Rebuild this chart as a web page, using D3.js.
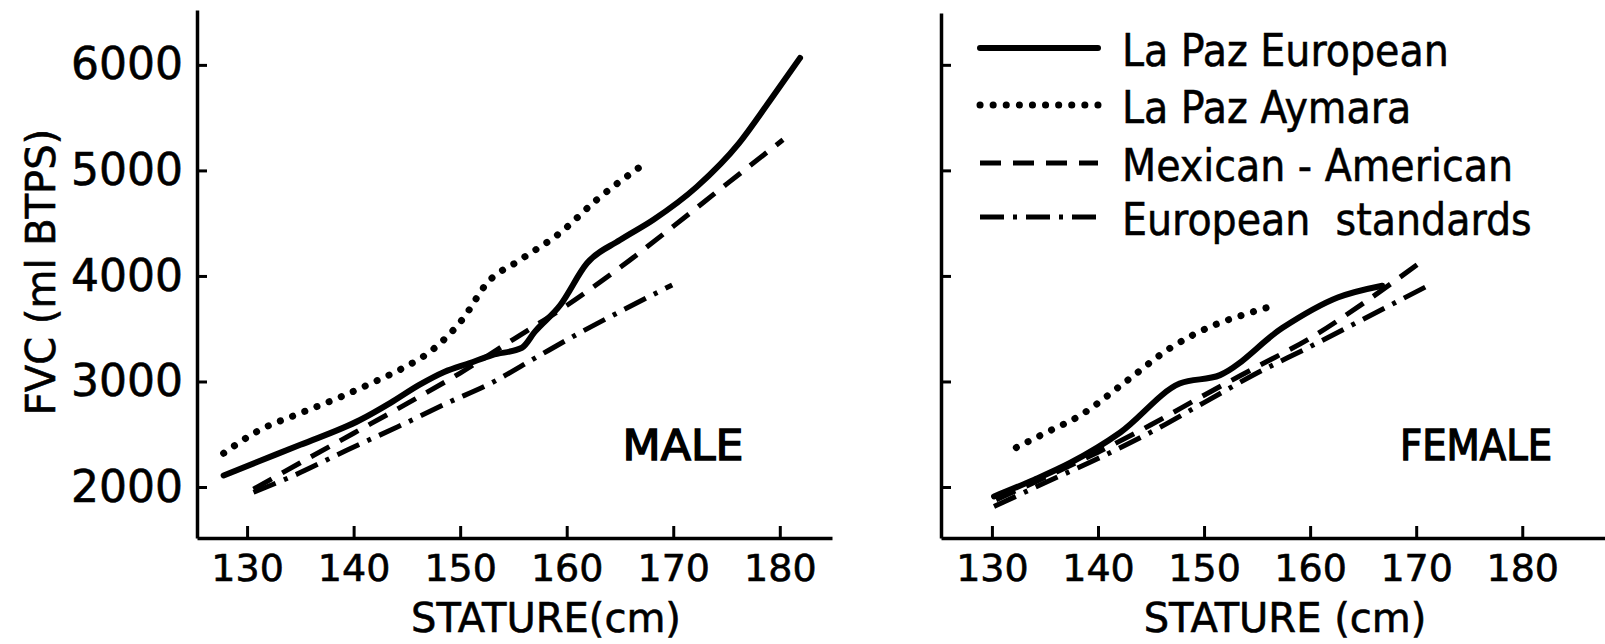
<!DOCTYPE html>
<html>
<head>
<meta charset="utf-8">
<script src="https://cdn.jsdelivr.net/npm/d3@7"></script>
<style>
	body { margin: 0; background: #fff; }
	svg { display: block; }
</style>
</head>
<body>
<svg id="chart"></svg>
<script>
// FVC vs stature, male and female panels

const xTicks = [130, 140, 150, 160, 170, 180];
const yTicks = [2000, 3000, 4000, 5000, 6000];
const seriesNames = ["La Paz European", "La Paz Aymara", "Mexican - American", "European  standards"];

// [stature cm, FVC ml]
const maleLaPazEuropean = [[127.8,2110],[131,2240],[135,2400],[140.6,2635],[143.5,2800],[146.2,2970],[148.5,3090],[150.9,3175],[153,3250],[155.8,3320],[157,3470],[159.4,3725],[161.9,4120],[165,4340],[168.1,4530],[172.2,4844],[176.2,5261],[179,5650],[181.9,6066]];
const maleLaPazAymara = [[127.8,2320],[131,2530],[135,2700],[138.7,2850],[141.8,2990],[144.5,3120],[147.4,3300],[150.3,3600],[152.5,3930],[155.6,4150],[159.4,4410],[162.8,4720],[167.1,5050]];
const maleMexicanAmerican = [[130.6,1980],[135,2230],[140,2510],[145,2790],[150,3080],[155,3400],[160,3720],[165,4080],[170,4470],[175,4870],[180.3,5290]];
const maleEuropeanStandards = [[130.6,1950],[134.5,2114],[139.4,2351],[144.1,2569],[148.8,2796],[153,2990],[157.2,3232],[161.2,3460],[165.3,3678],[169.9,3915]];

const femaleLaPazEuropean = [[130.2,1911],[134,2070],[137.4,2230],[142.1,2517],[147.7,2980],[151.5,3060],[157.4,3508],[162.6,3795],[166.8,3907]];
const femaleLaPazAymara = [[132.3,2374],[135,2510],[138.3,2677],[142.6,2997],[146.8,3316],[151.1,3540],[154,3640],[157,3732]];
const femaleMexicanAmerican = [[130.4,1880],[135,2090],[140,2330],[145,2590],[150,2870],[155,3140],[160,3410],[165,3740],[170.2,4115]];
const femaleEuropeanStandards = [[130.2,1815],[135,2040],[140,2270],[145,2520],[150,2800],[155,3080],[160,3330],[165,3590],[171.1,3907]];

let width = 1605;
let height = 644;
let font = "'DejaVu Sans', sans-serif";
let condensed = "'DejaVu Sans Condensed', 'DejaVu Sans', sans-serif";

let styles = [
	{width: 6, dash: null, cap: "round"},
	{width: 7, dash: "0.1 13", cap: "round"},
	{width: 5, dash: "21 12", cap: "butt"},
	{width: 5, dash: "24 9 4 9", cap: "butt"}
];

let svg = d3.select("#chart")
	.attr("width", width)
	.attr("height", height);

svg.append("rect").attr("width", width).attr("height", height).attr("fill", "#fff");

function drawPanel(opts){
	let x = d3.scaleLinear().domain(opts.xDomain).range(opts.xRange);
	let y = d3.scaleLinear().domain(opts.yDomain).range(opts.yRange);

	let g = svg.append("g");

	let xAxis = g.append("g")
		.attr("transform", "translate(0," + opts.yRange[0] + ")")
		.call(d3.axisBottom(x).tickValues(xTicks).tickSizeInner(-12).tickSizeOuter(0).tickPadding(16));

	let yAxis = g.append("g")
		.attr("transform", "translate(" + opts.xRange[0] + ",0)")
		.call(d3.axisLeft(y).tickValues(yTicks).tickSizeInner(-10).tickSizeOuter(0).tickPadding(14)
			.tickFormat(opts.yLabels ? d3.format("d") : ""));

	[xAxis, yAxis].forEach(a => {
		a.attr("font-family", font).attr("font-size", null);
		a.select(".domain").attr("stroke", "#000").attr("stroke-width", 3.5);
		a.selectAll(".tick line").attr("stroke", "#000").attr("stroke-width", 3);
		a.selectAll(".tick text").attr("fill", "#000").attr("stroke", "#000").attr("stroke-width", 0.6);
	});
	xAxis.selectAll(".tick text").attr("font-size", 38);
	yAxis.selectAll(".tick text").attr("font-size", 44);

	let line = d3.line()
		.x(d => x(d[0]))
		.y(d => y(d[1]))
		.curve(d3.curveMonotoneX);

	opts.series.forEach((s, i) => {
		g.append("path")
			.attr("d", line(s))
			.attr("fill", "none")
			.attr("stroke", "#000")
			.attr("stroke-width", styles[i].width)
			.attr("stroke-dasharray", styles[i].dash)
			.attr("stroke-linecap", styles[i].cap)
			.attr("stroke-linejoin", "round");
	});

	g.append("text")
		.attr("x", opts.tagX)
		.attr("y", 460)
		.attr("text-anchor", "middle")
		.attr("font-family", font)
		.attr("font-size", 42)
		.attr("stroke", "#000")
		.attr("stroke-width", 1.4)
		.attr("textLength", opts.tagLength)
		.attr("lengthAdjust", "spacingAndGlyphs")
		.text(opts.tag);

	g.append("text")
		.attr("x", opts.titleX)
		.attr("y", 632)
		.attr("text-anchor", "middle")
		.attr("font-family", font)
		.attr("font-size", 40)
		.attr("stroke", "#000")
		.attr("stroke-width", 0.6)
		.text(opts.title);
}

drawPanel({
	xDomain: [125.3, 184.9], xRange: [197, 832],
	yDomain: [1517, 6520], yRange: [538, 10],
	yLabels: true,
	series: [maleLaPazEuropean, maleLaPazAymara, maleMexicanAmerican, maleEuropeanStandards],
	tag: "MALE", tagX: 683, tagLength: 121,
	title: "STATURE(cm)", titleX: 546
});

drawPanel({
	xDomain: [125.2, 187.8], xRange: [941, 1605],
	yDomain: [1517, 6491], yRange: [538, 13],
	yLabels: false,
	series: [femaleLaPazEuropean, femaleLaPazAymara, femaleMexicanAmerican, femaleEuropeanStandards],
	tag: "FEMALE", tagX: 1476, tagLength: 152,
	title: "STATURE (cm)", titleX: 1285
});

// y axis title
svg.append("text")
	.attr("transform", "translate(41,272) rotate(-90)")
	.attr("text-anchor", "middle")
	.attr("dominant-baseline", "central")
	.attr("font-family", font)
	.attr("font-size", 40)
	.attr("stroke", "#000")
	.attr("stroke-width", 0.6)
	.text("FVC (ml BTPS)");

// legend in the female panel
let legendRows = [48, 105, 163, 217];
let legend = svg.append("g");
seriesNames.forEach((name, i) => {
	legend.append("line")
		.attr("x1", 980).attr("x2", 1098)
		.attr("y1", legendRows[i]).attr("y2", legendRows[i])
		.attr("stroke", "#000")
		.attr("stroke-width", styles[i].width)
		.attr("stroke-dasharray", styles[i].dash)
		.attr("stroke-linecap", styles[i].cap);
	legend.append("text")
		.attr("x", 1122)
		.attr("y", legendRows[i] + 2)
		.attr("dominant-baseline", "central")
		.attr("font-family", condensed)
		.attr("font-size", 44)
		.attr("stroke", "#000")
		.attr("stroke-width", 0.5)
		.attr("xml:space", "preserve")
		.style("white-space", "pre")
		.text(name);
});
</script>
</body>
</html>
